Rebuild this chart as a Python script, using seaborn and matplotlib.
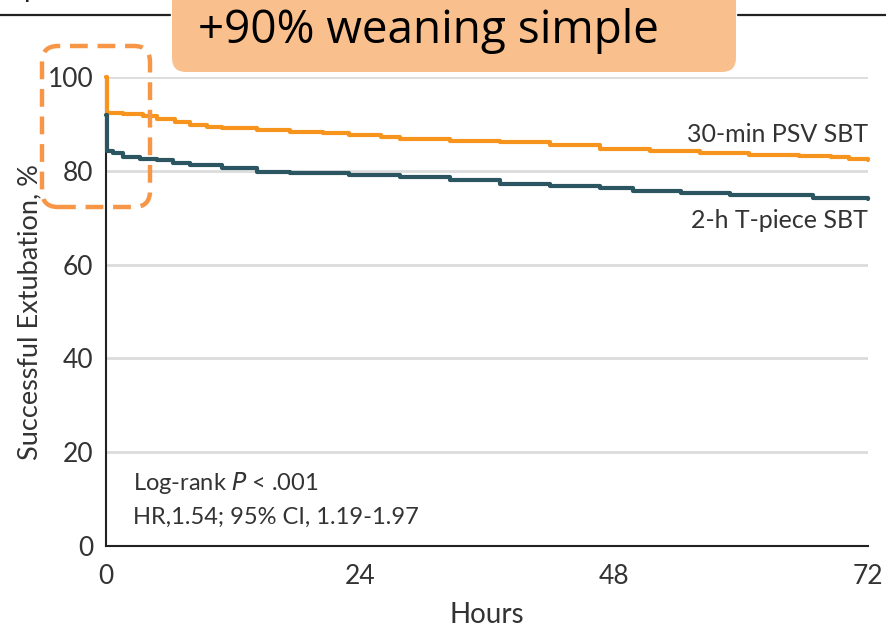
import matplotlib
matplotlib.use("Agg")
import matplotlib.pyplot as plt
import seaborn as sns
import pandas as pd
from matplotlib.patches import FancyBboxPatch
from matplotlib.lines import Line2D

# ---- data ----
psv_hours = [0, 0.05, 1.6, 3.5, 4.8, 6.5, 7.9, 9.5, 11.0, 14.3, 17.4, 20.5, 23.0, 26.0, 27.8, 32.5, 37.2, 42.0, 46.7, 51.4, 56.1, 60.8, 65.5, 68.5, 70.2, 72.0]
psv_values = [100, 92.4, 92.2, 91.6, 91.0, 90.4, 89.8, 89.4, 89.1, 88.7, 88.3, 88.0, 87.6, 87.2, 86.8, 86.4, 86.1, 85.5, 84.6, 84.2, 83.8, 83.4, 83.2, 82.9, 82.5, 82.3]

tp_hours = [0, 0.05, 0.7, 1.6, 3.2, 4.8, 6.3, 7.9, 11.0, 14.3, 17.4, 23.0, 27.8, 32.5, 37.2, 42.0, 46.7, 49.8, 54.3, 59.0, 66.8, 72.0]
tp_values = [91.9, 84.2, 83.7, 83.0, 82.6, 82.3, 81.6, 81.2, 80.5, 79.8, 79.6, 79.1, 78.7, 78.0, 77.2, 76.8, 76.3, 75.7, 75.3, 74.8, 74.2, 74.0]

series_labels = ["30-min PSV SBT", "2-h T-piece SBT"]
x_ticks = [0, 24, 48, 72]
y_ticks = [0, 20, 40, 60, 80, 100]
annot_lines = ["Log-rank $\\it{P}$ < .001", "HR,1.54; 95% CI, 1.19-1.97"]
banner_text = "+90% weaning simple"

ORANGE = "#F7941D"
TEAL = "#2A5561"
TXT = "#333333"

sns.set_theme(style="white")
plt.rcParams["font.family"] = ["Lato", "DejaVu Sans"]

fig = plt.figure(figsize=(8.87, 6.27), dpi=100)
ax = fig.add_axes([106/887, 1-546/627, 762/887, 469/627])

df_psv = pd.DataFrame({"Hours": psv_hours, "Value": psv_values})
df_tp = pd.DataFrame({"Hours": tp_hours, "Value": tp_values})

# grid
for yv in y_ticks[1:]:
    ax.axhline(yv, color="#DCDCDC", lw=2, zorder=0)

sns.lineplot(data=df_psv, x="Hours", y="Value", ax=ax, color=ORANGE, lw=3.0,
             drawstyle="steps-post", clip_on=False, zorder=3)
sns.lineplot(data=df_tp, x="Hours", y="Value", ax=ax, color=TEAL, lw=3.0,
             drawstyle="steps-post", clip_on=False, zorder=4)

ax.set_xlim(0, 72)
ax.set_ylim(0, 100)
ax.set_xticks(x_ticks)
ax.set_yticks(y_ticks)
for s in ["top", "right"]:
    ax.spines[s].set_visible(False)
for s in ["left", "bottom"]:
    ax.spines[s].set_color("#222222")
    ax.spines[s].set_linewidth(1.5)
    ax.spines[s].set_zorder(2)
ax.tick_params(axis="both", direction="out", length=7, width=1.3, color="#222222",
               labelsize=19, labelcolor=TXT)
ax.tick_params(axis="x", pad=6)
ax.tick_params(axis="y", pad=2)
ax.set_xlabel("Hours", fontsize=20, color=TXT, labelpad=9)
ax.set_ylabel("Successful Extubation, %", fontsize=19.5, color=TXT, labelpad=4)

ax.text(72, 87.8, series_labels[0], ha="right", va="center", fontsize=18, color=TXT)
ax.text(72, 69.3, series_labels[1], ha="right", va="center", fontsize=18, color=TXT)

ax.text(2.55, 13.5, annot_lines[0], ha="left", va="center", fontsize=17, color=TXT)
ax.text(2.55, 6.2, annot_lines[1], ha="left", va="center", fontsize=17, color=TXT)

# top header rule and cropped glyph
fig.add_artist(Line2D([0, 170/887], [1-15/627]*2, transform=fig.transFigure, color="#222222", lw=1.6))
fig.add_artist(Line2D([738/887, 1], [1-15/627]*2, transform=fig.transFigure, color="#222222", lw=1.6))
fig.text(24/887, 1+3/627, "p", fontsize=20, color="#222222", va="baseline", ha="left")

# banner
banner = FancyBboxPatch((172, 627-72), 564, 120, boxstyle="round,pad=0,rounding_size=14",
                        transform=None, facecolor="#F9C08E", edgecolor="none", zorder=5)
fig.add_artist(banner)
fig.text(428/887, 1-43/627, banner_text, ha="center", va="baseline", fontsize=33,
         color="black", zorder=6, family=["Open Sans", "DejaVu Sans"])

# dashed highlight
dash = FancyBboxPatch((42, 627-207), 108, 161, boxstyle="round,pad=0,rounding_size=16",
                      transform=None, facecolor="none", edgecolor="#F79646", lw=3.2,
                      linestyle=(0, (4, 2.2)), zorder=7)
fig.add_artist(dash)

fig.savefig("out.png", dpi=100)
